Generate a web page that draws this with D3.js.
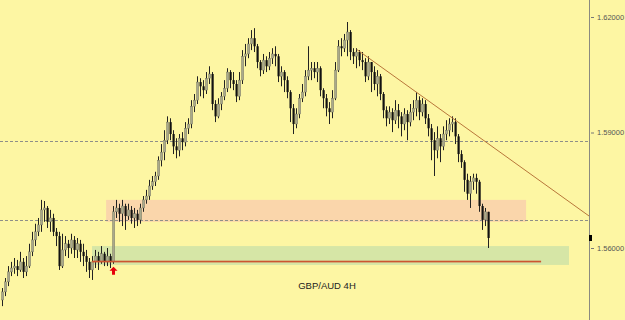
<!DOCTYPE html>
<html>
<head>
<meta charset="utf-8">
<script src="https://cdn.jsdelivr.net/npm/d3@7/dist/d3.min.js"></script>
<style>
  body { margin: 0; background: #fdf6a3; }
  svg { display: block; }
</style>
</head>
<body>
<div id="chart"></div>
<script>
// GBP/AUD 4H candles (open = previous close)
var firstOpen = 1.5465;

var closes = [1.5486,1.5512,1.5538,1.5548,1.5553,1.5543,1.5564,1.5538,1.5553,1.5590,
  1.5621,1.5642,1.5660,1.5699,1.5704,1.5668,1.5678,1.5642,1.5631,1.5553,
  1.5595,1.5611,1.5600,1.5621,1.5595,1.5611,1.5590,1.5579,1.5564,1.5543,
  1.5564,1.5579,1.5564,1.5585,1.5564,1.5579,1.5564,1.5694,1.5704,1.5689,
  1.5709,1.5683,1.5699,1.5678,1.5689,1.5673,1.5704,1.5725,1.5735,1.5761,
  1.5772,1.5787,1.5828,1.5849,1.5880,1.5927,1.5896,1.5864,1.5854,1.5885,
  1.5875,1.5911,1.5922,1.5968,1.5984,1.6031,1.6020,1.6010,1.6041,1.6052,
  1.5974,1.5942,1.5974,1.5994,1.6015,1.6057,1.6036,1.6026,1.5994,1.6036,
  1.6098,1.6104,1.6130,1.6145,1.6124,1.6083,1.6062,1.6088,1.6072,1.6093,
  1.6104,1.6098,1.6046,1.6057,1.6036,1.6005,1.5963,1.5922,1.5948,1.5989,
  1.6005,1.6046,1.6062,1.6067,1.6057,1.6067,1.6010,1.5989,1.5963,1.5953,
  1.5989,1.6062,1.6124,1.6119,1.6140,1.6161,1.6109,1.6098,1.6109,1.6088,
  1.6083,1.6046,1.6083,1.6057,1.6026,1.6046,1.6000,1.5958,1.5937,1.5953,
  1.5932,1.5958,1.5942,1.5922,1.5948,1.5927,1.5953,1.5963,1.5984,1.5953,
  1.5974,1.5937,1.5911,1.5880,1.5854,1.5885,1.5864,1.5896,1.5906,1.5922,
  1.5927,1.5890,1.5844,1.5823,1.5777,1.5741,1.5772,1.5782,1.5772,1.5709,
  1.5673,1.5694,1.5626];

var highs = [1.5496,1.5522,1.5553,1.5564,1.5574,1.5569,1.5590,1.5574,1.5579,1.5611,
  1.5642,1.5663,1.5678,1.5725,1.5722,1.5709,1.5699,1.5689,1.5652,1.5642,
  1.5637,1.5631,1.5621,1.5637,1.5631,1.5626,1.5621,1.5611,1.5595,1.5574,
  1.5579,1.5595,1.5590,1.5605,1.5590,1.5600,1.5585,1.5709,1.5725,1.5715,
  1.5725,1.5715,1.5715,1.5709,1.5704,1.5699,1.5715,1.5735,1.5751,1.5777,
  1.5787,1.5798,1.5838,1.5870,1.5906,1.5942,1.5937,1.5906,1.5885,1.5896,
  1.5901,1.5927,1.5937,1.5984,1.6000,1.6046,1.6041,1.6036,1.6057,1.6072,
  1.6057,1.5984,1.5989,1.6005,1.6036,1.6067,1.6062,1.6057,1.6036,1.6057,
  1.6114,1.6130,1.6145,1.6166,1.6171,1.6130,1.6088,1.6104,1.6098,1.6109,
  1.6119,1.6124,1.6104,1.6072,1.6062,1.6046,1.6010,1.5974,1.5963,1.6000,
  1.6026,1.6062,1.6124,1.6083,1.6083,1.6083,1.6072,1.6015,1.6000,1.5979,
  1.6010,1.6083,1.6140,1.6145,1.6156,1.6187,1.6166,1.6119,1.6119,1.6114,
  1.6109,1.6093,1.6098,1.6083,1.6072,1.6062,1.6052,1.6005,1.5968,1.5968,
  1.5963,1.5984,1.5974,1.5953,1.5963,1.5958,1.5974,1.5984,1.6005,1.5994,
  1.5989,1.5984,1.5948,1.5922,1.5901,1.5916,1.5896,1.5916,1.5932,1.5937,
  1.5942,1.5937,1.5896,1.5854,1.5828,1.5793,1.5787,1.5793,1.5793,1.5777,
  1.5715,1.5704,1.5694];

var lows = [1.5449,1.5475,1.5501,1.5527,1.5533,1.5527,1.5538,1.5522,1.5527,1.5548,
  1.5579,1.5605,1.5631,1.5642,1.5668,1.5652,1.5642,1.5631,1.5605,1.5543,
  1.5548,1.5579,1.5574,1.5585,1.5574,1.5574,1.5564,1.5553,1.5538,1.5522,
  1.5517,1.5548,1.5543,1.5559,1.5553,1.5553,1.5548,1.5559,1.5678,1.5668,
  1.5657,1.5647,1.5673,1.5663,1.5652,1.5657,1.5663,1.5694,1.5715,1.5725,
  1.5751,1.5761,1.5777,1.5812,1.5828,1.5870,1.5880,1.5844,1.5833,1.5838,
  1.5854,1.5864,1.5896,1.5911,1.5953,1.5974,1.5994,1.5989,1.6000,1.6026,
  1.5958,1.5927,1.5937,1.5958,1.5984,1.6005,1.6015,1.6010,1.5979,1.5984,
  1.6026,1.6072,1.6093,1.6114,1.6109,1.6067,1.6046,1.6052,1.6057,1.6062,
  1.6078,1.6072,1.6031,1.6020,1.6005,1.5989,1.5927,1.5896,1.5911,1.5937,
  1.5979,1.5994,1.6036,1.6036,1.6041,1.6031,1.5994,1.5963,1.5942,1.5922,
  1.5937,1.5984,1.6057,1.6098,1.6109,1.6098,1.6088,1.6078,1.6067,1.6072,
  1.6062,1.6031,1.6036,1.6005,1.6010,1.5994,1.5984,1.5937,1.5916,1.5922,
  1.5901,1.5922,1.5911,1.5890,1.5906,1.5880,1.5916,1.5932,1.5942,1.5932,
  1.5942,1.5922,1.5890,1.5828,1.5787,1.5833,1.5823,1.5854,1.5880,1.5890,
  1.5901,1.5870,1.5823,1.5808,1.5746,1.5725,1.5704,1.5751,1.5741,1.5694,
  1.5647,1.5657,1.5600];

var tickValues = [1.56, 1.59, 1.62];
var dottedLevels = [1.5878, 1.5673];

// zones: [from bar, to bar, top price, bottom price]
var resistZone = [34.7, 174.7, 1.5725, 1.5668];
var supportZone = [30, 189, 1.5605, 1.5556];
var supportLine = [30, 179.7, 1.5566];
// trend line: [bar, price] -> [bar, price]
var trendLine = [[118.2, 1.6116], [195.7, 1.5683]];
var arrowAt = [37, 1.5551];
var title = "GBP/AUD 4H";

var width = 625, height = 320;
var bg = "#fdf6a3";

var svg = d3.select("#chart").append("svg")
    .attr("width", width)
    .attr("height", height);

svg.append("rect")
    .attr("width", width)
    .attr("height", height)
    .attr("fill", bg);

var x = d3.scaleLinear().domain([0, closes.length - 1]).range([2, 488]);
var y = d3.scaleLinear().domain([1.56, 1.62]).range([248, 17]);

var candles = closes.map(function(c, i){
    return { i: i, o: i ? closes[i - 1] : firstOpen, h: highs[i], l: lows[i], c: c };
});

// zones
svg.append("rect")
    .attr("x", x(resistZone[0]))
    .attr("y", y(resistZone[2]))
    .attr("width", x(resistZone[1]) - x(resistZone[0]))
    .attr("height", y(resistZone[3]) - y(resistZone[2]))
    .attr("fill", "#fad6ab");

svg.append("rect")
    .attr("x", x(supportZone[0]))
    .attr("y", y(supportZone[2]))
    .attr("width", x(supportZone[1]) - x(supportZone[0]))
    .attr("height", y(supportZone[3]) - y(supportZone[2]))
    .attr("fill", "#d6e6a6");

// dotted levels
svg.selectAll(".level")
    .data(dottedLevels)
    .enter()
    .append("line")
    .attr("class", "level")
    .attr("x1", 0)
    .attr("x2", 589)
    .attr("y1", function(d){ return Math.round(y(d)) + 0.5; })
    .attr("y2", function(d){ return Math.round(y(d)) + 0.5; })
    .attr("stroke", "#8f8f88")
    .attr("stroke-dasharray", "3,2");

// candles
var g = svg.selectAll(".candle")
    .data(candles)
    .enter()
    .append("g")
    .attr("class", "candle");

g.append("line")
    .attr("x1", function(d){ return Math.round(x(d.i)) + 0.5; })
    .attr("x2", function(d){ return Math.round(x(d.i)) + 0.5; })
    .attr("y1", function(d){ return y(d.h); })
    .attr("y2", function(d){ return y(d.l); })
    .attr("stroke", "#222");

g.append("rect")
    .attr("x", function(d){ return Math.round(x(d.i)) - 0.5; })
    .attr("y", function(d){ return y(Math.max(d.o, d.c)); })
    .attr("width", 2.2)
    .attr("height", function(d){ return Math.max(1, Math.abs(y(d.o) - y(d.c))); })
    .attr("fill", function(d){ return d.c >= d.o ? "#a9a98c" : "#111"; })
    .attr("stroke", function(d){ return d.c >= d.o ? "#6c6c58" : "none"; })
    .attr("stroke-width", 0.4);

// support line, drawn over the candles
svg.append("rect")
    .attr("x", x(supportLine[0]))
    .attr("y", Math.round(y(supportLine[2])) - 0.3)
    .attr("width", x(supportLine[1]) - x(supportLine[0]))
    .attr("height", 1.7)
    .attr("fill", "#cc5530");

// trend line
svg.append("line")
    .attr("x1", x(trendLine[0][0]))
    .attr("y1", y(trendLine[0][1]))
    .attr("x2", x(trendLine[1][0]))
    .attr("y2", y(trendLine[1][1]))
    .attr("stroke", "#b8763a")
    .attr("stroke-width", 1);

// red arrow
var ax = Math.round(x(arrowAt[0])) + 0.5, ay = y(arrowAt[1]);
svg.append("path")
    .attr("d", "M" + ax + "," + ay + " l4,4 h-2.5 v4 h-3 v-4 h-2.5 z")
    .attr("fill", "#e6000a");

// right axis
svg.append("line")
    .attr("x1", 589.5).attr("x2", 589.5)
    .attr("y1", 0).attr("y2", height)
    .attr("stroke", "#8a8a80");

var axis = d3.axisRight(y)
    .tickValues(tickValues)
    .tickSize(4)
    .tickPadding(3)
    .tickFormat(d3.format(".5f"));

var ag = svg.append("g")
    .attr("transform", "translate(590,0)")
    .call(axis);
ag.select(".domain").remove();
ag.selectAll(".tick line").attr("stroke", "#777").attr("x1", 1);
ag.selectAll(".tick text")
    .attr("fill", "#555")
    .style("font-family", "Liberation Sans, Arial, sans-serif")
    .style("font-size", "7.5px");

// last price marker
svg.append("rect")
    .attr("x", 589)
    .attr("y", y(closes[closes.length - 1]) - 3)
    .attr("width", 3)
    .attr("height", 6)
    .attr("fill", "#000");

svg.append("text")
    .attr("x", 327)
    .attr("y", 288.5)
    .attr("text-anchor", "middle")
    .attr("fill", "#222")
    .style("font-family", "Liberation Sans, Arial, sans-serif")
    .style("font-size", "9.5px")
    .text(title);
</script>
</body>
</html>
